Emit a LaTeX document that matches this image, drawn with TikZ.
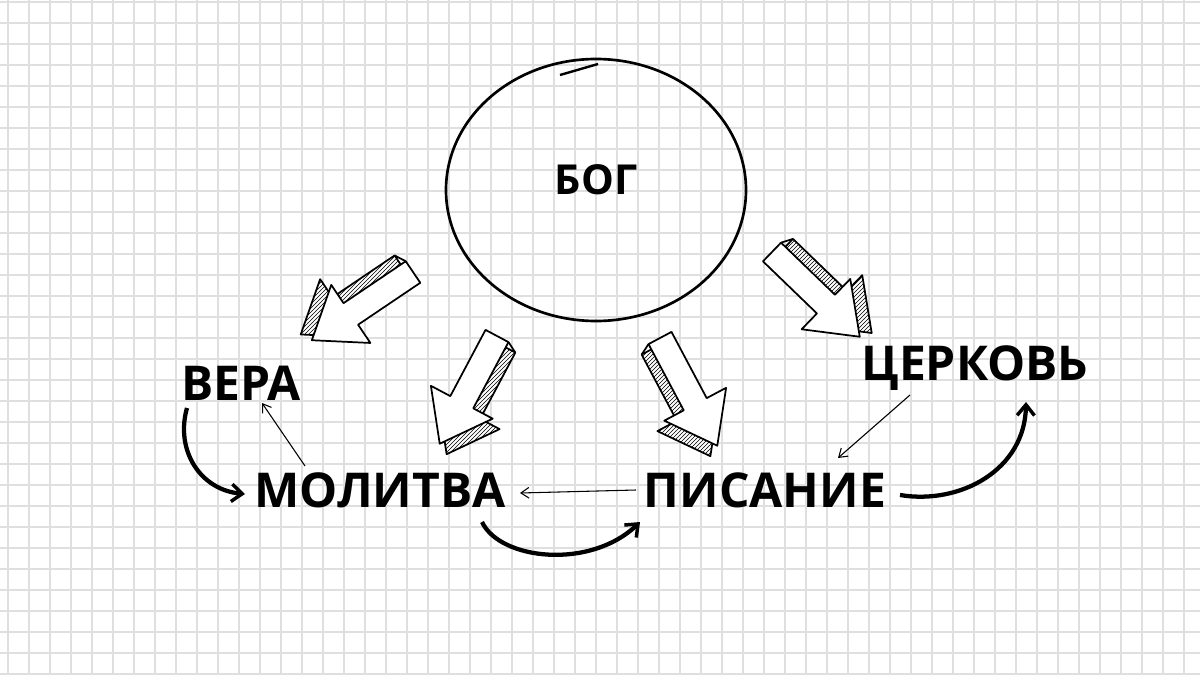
\documentclass[tikz,border=0pt]{standalone}
\usepackage{fontspec}
\setmainfont{Open Sans}
\usetikzlibrary{patterns,arrows.meta,shapes.geometric}
\begin{document}
\begin{tikzpicture}[x=0.75pt,y=-0.75pt,
  lbl/.style={font=\fontsize{36}{40}\selectfont\bfseries, inner sep=0pt},
  thick arr/.style={line width=3.2pt,-{Straight Barb[length=8pt,width=13pt,line width=2.6pt]}},
  thin arr/.style={line width=0.8pt,-{Straight Barb[length=6pt,width=8pt]}},
  blk/.pic={
    \begin{scope}[shift={(6,#1)}]
    \filldraw[line width=1.3pt, line join=round, fill=white] (0,-13)--(75,-13)--(75,-35)--(122,0)--(75,35)--(75,13)--(0,13)--cycle;
    \fill[pattern=north east lines, pattern color=black] (0,-13)--(75,-13)--(75,-35)--(122,0)--(75,35)--(75,13)--(0,13)--cycle;
    \end{scope}
    \draw[line width=1.3pt] (0,-13)--(6,-13+#1) (0,13)--(6,13+#1);
    \draw[line width=1.3pt, fill=white, line join=round] (0,-13)--(75,-13)--(75,-35)--(122,0)--(75,35)--(75,13)--(0,13)--cycle;
  }]
\useasboundingbox (0,0) rectangle (1200,675);
\fill[white] (0,0) rectangle (1200,675);
\foreach \i in {0,...,57} \draw[gray!25,line width=0.9pt] (8+21*\i,0)--(8+21*\i,675);
\foreach \i in {0,...,32} \draw[gray!25,line width=0.9pt] (0,2+21*\i)--(1200,2+21*\i);
\node[draw,line width=2pt,ellipse,inner sep=0pt,minimum width=225pt,minimum height=196.5pt] (god) at (596,190) {};
\draw[line width=1.8pt] (560,75)--(598,64);
\node[font=\fontsize{31}{34}\selectfont\bfseries] (bog) at (596,180) {БОГ};
\pic[rotate=-146] at (413,272) {blk=11};
\pic[rotate=-118] at (497,336) {blk=-11};
\pic[rotate=-62] at (660,338) {blk=11};
\pic[rotate=-44] at (772,252) {blk=-11};
\node[lbl] (vera) at (241,383) {ВЕРА};
\node[lbl] (mol) at (380,490) {МОЛИТВА};
\node[lbl] (pis) at (765,490) {ПИСАНИЕ};
\node[lbl] (cer) at (975,368) {ЦЕРКОВЬ};
\coordinate (a1) at (187,408); \coordinate (a2) at (245,494);
\draw[thick arr] (a1) .. controls (175,450) and (200,490) .. (a2);
\coordinate (b1) at (305,466); \coordinate (b2) at (262,403);
\draw[thin arr] (b1)--(b2);
\coordinate (c1) at (636,490); \coordinate (c2) at (520,493);
\draw[thin arr] (c1)--(c2);
\coordinate (d1) at (482,522); \coordinate (d2) at (640,522);
\draw[thick arr] (d1) .. controls (500,560) and (590,570) .. (d2);
\coordinate (e1) at (910,395); \coordinate (e2) at (838,458);
\draw[thin arr] (e1)--(e2);
\coordinate (f1) at (900,495); \coordinate (f2) at (1026,402);
\draw[thick arr] (f1) .. controls (960,505) and (1025,470) .. (f2);
\end{tikzpicture}
\end{document}
